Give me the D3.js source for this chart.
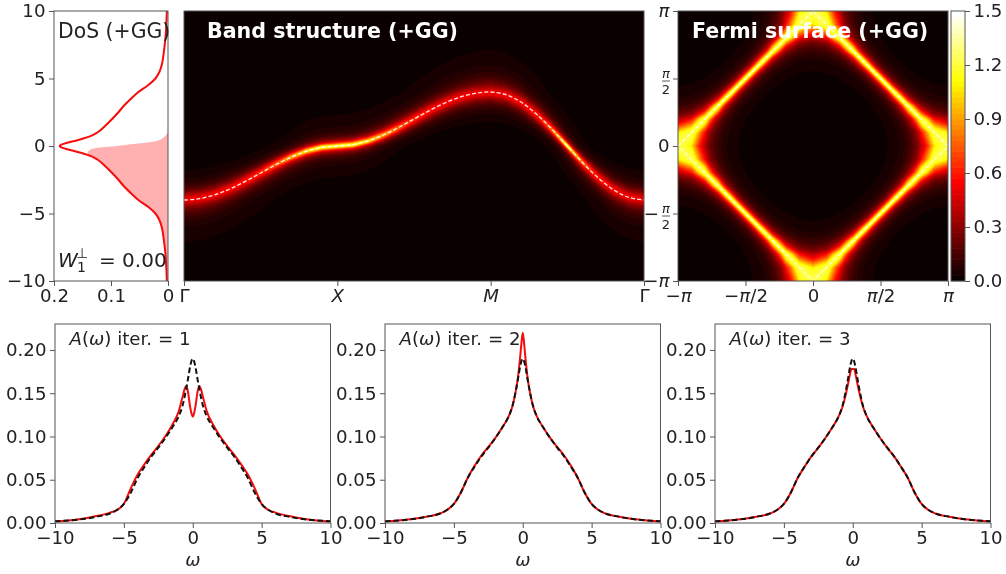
<!DOCTYPE html>
<html>
<head>
<meta charset="utf-8">
<script src="https://cdnjs.cloudflare.com/ajax/libs/d3/7.8.5/d3.min.js"></script>
<style>
  body { margin: 0; background: #fff; }
  #wrap { position: relative; width: 1006px; height: 574px; overflow: hidden; filter: blur(0.35px); }
  canvas, svg { position: absolute; left: 0; top: 0; }
  text { font-family: "DejaVu Sans", sans-serif; fill: #222; }
  .tick text { font-size: 18.2px; }
</style>
</head>
<body>
<div id="wrap">
  <canvas id="heat" width="1006" height="574"></canvas>
  <svg id="chart" width="1006" height="574"></svg>
</div>
<script>
// all values
let omega = [-10, -9, -8, -7, -6, -5.5, -5, -4.5, -4, -3.5, -3, -2.5, -2, -1.5, -1, -0.75, -0.5, -0.35, -0.2, -0.1, 0,
             0.1, 0.2, 0.35, 0.5, 0.75, 1, 1.5, 2, 2.5, 3, 3.5, 4, 4.5, 5, 5.5, 6, 7, 8, 9, 10];

// non-interacting DoS, the dashed line of each lower panel and the red line of the DoS panel
let dos0 = [.002, .003, .0045, .0072, .011, .015, .022, .035, .052, .065, .077, .087, .098, .11, .124, .135, .153, .166, .18, .187, .19,
            .187, .18, .166, .153, .135, .124, .11, .098, .087, .077, .065, .052, .035, .022, .015, .011, .0072, .0045, .003, .002];
let iter1 = [.002, .003, .005, .008, .012, .015, .022, .04, .056, .068, .079, .089, .1, .113, .13, .145, .158, .152, .135, .127, .123,
             .127, .135, .152, .158, .145, .13, .113, .1, .089, .079, .068, .056, .04, .022, .015, .012, .008, .005, .003, .002];
let iter2 = [.002, .003, .0045, .0072, .011, .015, .022, .035, .052, .066, .078, .088, .098, .11, .124, .135, .153, .168, .19, .207, .22,
             .207, .19, .168, .153, .135, .124, .11, .098, .088, .078, .066, .052, .035, .022, .015, .011, .0072, .0045, .003, .002];
let iter3 = [.002, .003, .0045, .0072, .011, .015, .022, .035, .052, .065, .077, .087, .098, .11, .124, .134, .149, .16, .172, .178, .178,
             .178, .172, .16, .149, .134, .124, .11, .098, .087, .077, .065, .052, .035, .022, .015, .011, .0072, .0045, .003, .002];
let iterNames = ["1", "2", "3"];
let iterSeries = [iter1, iter2, iter3];

// shaded part of the DoS panel
let occE = [-10, -9, -8, -7, -6, -5.5, -5, -4.5, -4, -3.5, -3, -2.5, -2, -1.5, -1, -0.8, -0.67, -0.5, -0.3, -0.12, 0, 0.15, 0.32, 0.5, 0.7, 1.06];
let occD = [.002, .003, .0045, .0072, .011, .015, .022, .035, .052, .065, .077, .087, .098, .11, .124, .133, .14, .141, .137, .12, .09, .061, .026, .012, .006, 0];

// dashed band along the path, 10 steps on each of the three legs
let bandE = [-4, -3.9, -3.62, -3.18, -2.62, -2, -1.38, -.82, -.38, -.1, 0,
             .1, .38, .82, 1.38, 2, 2.62, 3.18, 3.62, 3.9, 4,
             3.8, 3.24, 2.35, 1.24, 0, -1.24, -2.35, -3.24, -3.8, -4];
let pathTicks = [0, 10, 20, 30];
let pathLabels = ["Γ", "X", "M", "Γ"];

// line width of the spectral peak against energy, judged from ridge brightness and halo extent
let widthE = [-10, -7, -5, -4, -3, -2, -1, 0, 1, 2, 3, 4, 5, 7, 10];
let widthG = [1.8, 1, .8, .6, .56, .5, .36, .26, .36, .5, .56, .6, .8, 1, 1.8];

// hot colour map and colour bar
let hotStops = [0, .365, .746, 1];
let hotColors = ["#0a0000", "#ff0000", "#ffff00", "#ffffff"];
let barTicks = [0, .3, .6, .9, 1.2, 1.5];
let levelStep = .03;

let fermiTicks = [-1, -.5, 0, .5, 1];
let fermiXLabels = ["−π", "−π/2", "0", "π/2", "π"];
let fermiCorners = [[-1, 0], [0, 1], [1, 0], [0, -1], [-1, 0]];
let eTicks = [-10, -5, 0, 5, 10];
let dosTicks = [.2, .1, 0];
let aTicks = [0, .05, .1, .15, .2];

let svg = d3.select("#chart");
let ctx = document.getElementById("heat").getContext("2d");
let ink = "#555";

// Scales:
let topY = 11, bottomY = 281;
let eScale = d3.scaleLinear().domain([-10, 10]).range([bottomY, topY]);
let dosX = d3.scaleLinear().domain([.2, 0]).range([54, 168]);
let bandX = d3.scaleLinear().domain([0, 30]).range([184, 644]);
let fsX = d3.scaleLinear().domain([-1, 1]).range([678, 948]);
let fsY = d3.scaleLinear().domain([-1, 1]).range([bottomY, topY]);
let barY = d3.scaleLinear().domain([0, 1.5]).range([bottomY, topY]);
let aY = d3.scaleLinear().domain([0, .23]).range([523, 324]);

let hot = d3.scaleLinear().domain(hotStops).range(hotColors).clamp(true);
let levels = d3.range(0, 1.5 - 1e-9, levelStep);
let levelRgb = levels.map(l => d3.rgb(hot(l / (1.5 - levelStep))));

let gammaAt = d3.scaleLinear().domain(widthE).range(widthG).clamp(true);
let bandAt = d3.scaleLinear().domain(d3.range(bandE.length)).range(bandE);
// first leg of the path, used for both directions of the Fermi map
let legAt = d3.scaleLinear().domain(d3.range(11).map(i => i / 10)).range(bandE.slice(0, 11));

function spectral(w, e) {
  let g = gammaAt(w);
  return g / Math.PI / ((w - e) * (w - e) + g * g);
}

function paint(x0, x1, y0, y1, valueAt) {
  let img = ctx.createImageData(x1 - x0, y1 - y0);
  for (let py = y0; py < y1; py++) {
    for (let px = x0; px < x1; px++) {
      let lv = Math.min(levels.length - 1, Math.floor(valueAt(px + .5, py + .5) / levelStep));
      let c = levelRgb[lv];
      let i = ((py - y0) * (x1 - x0) + px - x0) * 4;
      img.data[i] = c.r; img.data[i + 1] = c.g; img.data[i + 2] = c.b; img.data[i + 3] = 255;
    }
  }
  ctx.putImageData(img, x0, y0);
}

paint(184, 644, topY, bottomY, (px, py) => spectral(eScale.invert(py), bandAt(bandX.invert(px))));
paint(678, 948, topY, bottomY, (px, py) => {
  let e = legAt(Math.abs(fsX.invert(px))) + legAt(Math.abs(fsY.invert(py))) + 4;
  return spectral(0, e);
});

// text with an italic pi
function piLabel(sel, label) {
  label.split(/(π)/).forEach(part => {
    if (part === "") return;
    sel.append("tspan").attr("font-style", part === "π" ? "italic" : "normal").text(part);
  });
}

function styleAxis(g) {
  g.selectAll(".domain").remove();
  g.selectAll("line").attr("stroke", ink);
  g.selectAll("text").attr("fill", "#222");
}

function frame(x0, y0, x1, y1) {
  svg.append("rect").attr("x", x0).attr("y", y0).attr("width", x1 - x0).attr("height", y1 - y0)
    .attr("fill", "none").attr("stroke", ink).attr("stroke-width", 1);
}

function axis(gen, tx, ty) {
  let g = svg.append("g").attr("transform", `translate(${tx},${ty})`).call(gen.tickSizeOuter(0).tickSize(5).tickPadding(3.5));
  styleAxis(g);
  return g;
}

let fmtMinus = d => String(d).replace("-", "−");

// DoS panel
let dosLine = d3.line().x(d => dosX(d[1])).y(d => eScale(d[0])).curve(d3.curveMonotoneY);
let occArea = d3.area().y(d => eScale(d[0])).x0(dosX(0)).x1(d => dosX(d[1])).curve(d3.curveMonotoneY);
svg.append("path").attr("d", occArea(d3.zip(occE, occD))).attr("fill", "#ffb0b0");
svg.append("path").attr("d", dosLine(d3.zip(omega, dos0))).attr("fill", "none").attr("stroke", "#f60c0c").attr("stroke-width", 2);
frame(54, topY, 168, bottomY);
axis(d3.axisLeft(eScale).tickValues(eTicks).tickFormat(fmtMinus), 54, 0);
axis(d3.axisBottom(dosX).tickValues(dosTicks).tickFormat(d => d === 0 ? "0" : d3.format(".1f")(d)), 0, bottomY);
svg.append("text").attr("x", 58).attr("y", 38).attr("font-size", 20.4).text("DoS (+GG)");
let wLabel = svg.append("text").attr("y", 267).attr("font-size", 20);
wLabel.append("tspan").attr("x", 58).attr("font-style", "italic").text("W");
wLabel.append("tspan").attr("x", 77).attr("dy", 5).attr("font-size", 14).text("1");
wLabel.append("tspan").attr("x", 76).attr("dy", -14).attr("font-size", 14).text("⊥");
wLabel.append("tspan").attr("x", 99).attr("dy", 9).text("= 0.00");

// Band panel
let bandLine = d3.line().x((d, i) => bandX(i)).y(d => eScale(d)).curve(d3.curveCatmullRom);
svg.append("path").attr("d", bandLine(bandE)).attr("fill", "none").attr("stroke", "#fff")
  .attr("stroke-width", 1.3).attr("stroke-dasharray", "4,2.2").attr("opacity", .9);
frame(184, topY, 644, bottomY);
let bandAxis = axis(d3.axisBottom(bandX).tickValues(pathTicks).tickFormat((d, i) => pathLabels[i]), 0, bottomY);
bandAxis.selectAll("text").attr("font-style", (d, i) => pathLabels[i] === "Γ" ? "normal" : "italic");
svg.append("text").attr("x", 207).attr("y", 38).attr("font-size", 20.6).attr("font-weight", "bold").style("fill", "#fff").text("Band structure (+GG)");

// Fermi panel
let cornerLine = d3.line().x(d => fsX(d[0])).y(d => fsY(d[1]));
svg.append("path").attr("d", cornerLine(fermiCorners)).attr("fill", "none").attr("stroke", "#fff")
  .attr("stroke-width", 1.2).attr("stroke-dasharray", "4,2.2").attr("opacity", .85);
frame(678, topY, 948, bottomY);
let fx = axis(d3.axisBottom(fsX).tickValues(fermiTicks).tickFormat(""), 0, bottomY);
fx.selectAll(".tick").each(function(d, i) {
  let t = d3.select(this).select("text").attr("dy", ".71em");
  piLabel(t, fermiXLabels[i]);
});
let fy = axis(d3.axisLeft(fsY).tickValues(fermiTicks).tickFormat(""), 678, 0);
fy.selectAll(".tick").each(function(d) {
  let tick = d3.select(this);
  let t = tick.select("text");
  if (d === 0) { t.text("0"); return; }
  if (Math.abs(d) === 1) { piLabel(t, d < 0 ? "−π" : "π"); return; }
  // stacked pi over 2
  t.remove();
  if (d < 0) tick.append("text").attr("x", -19).attr("y", 6).attr("text-anchor", "end").style("font-size", "18.2px").text("−");
  tick.append("text").attr("x", -12).attr("y", -1).attr("text-anchor", "middle").style("font-size", "13px").attr("font-style", "italic").text("π");
  tick.append("line").attr("x1", -16).attr("x2", -8).attr("y1", 2).attr("y2", 2).attr("stroke", "#333").attr("stroke-width", .8);
  tick.append("text").attr("x", -12).attr("y", 15).attr("text-anchor", "middle").style("font-size", "13px").text("2");
});
svg.append("text").attr("x", 692).attr("y", 38).attr("font-size", 20.6).attr("font-weight", "bold").style("fill", "#fff").text("Fermi surface (+GG)");

// Colour bar
svg.append("g").selectAll("rect").data(levels).join("rect")
  .attr("x", 951).attr("width", 14)
  .attr("y", d => barY(d + levelStep) - .3)
  .attr("height", d => barY(d) - barY(d + levelStep) + .6)
  .attr("fill", d => hot(d / (1.5 - levelStep)));
frame(951, topY, 965, bottomY);
axis(d3.axisRight(barY).tickValues(barTicks).tickFormat(d3.format(".1f")), 965, 0);

// Lower panels
let lowerLeft = [55, 385, 715];
let aLine = d3.line().x(d => d[0]).y(d => aY(d[1])).curve(d3.curveMonotoneX);
iterSeries.forEach((series, idx) => {
  let x0 = lowerLeft[idx];
  let wX = d3.scaleLinear().domain([-10, 10]).range([x0, x0 + 275.5]);
  let toPts = s => d3.zip(omega, s).map(d => [wX(d[0]), d[1]]);
  svg.append("path").attr("d", aLine(toPts(series))).attr("fill", "none").attr("stroke", "#f60c0c").attr("stroke-width", 2);
  svg.append("path").attr("d", aLine(toPts(dos0))).attr("fill", "none").attr("stroke", "#111")
    .attr("stroke-width", 2).attr("stroke-dasharray", "5.5,3");
  frame(x0, 324, x0 + 275.5, 523);
  axis(d3.axisBottom(wX).tickValues(eTicks).tickFormat(fmtMinus), 0, 523);
  axis(d3.axisLeft(aY).tickValues(aTicks).tickFormat(d3.format(".2f")), x0, 0);
  let label = svg.append("text").attr("x", x0 + 14.5).attr("y", 345).attr("font-size", 18.2);
  label.append("tspan").attr("font-style", "italic").text("A");
  label.append("tspan").text("(");
  label.append("tspan").attr("font-style", "italic").text("ω");
  label.append("tspan").text(") iter. = " + iterNames[idx]);
  svg.append("text").attr("x", x0 + 137.75).attr("y", 566).attr("text-anchor", "middle")
    .attr("font-size", 18.2).attr("font-style", "italic").text("ω");
});
</script>
</body>
</html>
